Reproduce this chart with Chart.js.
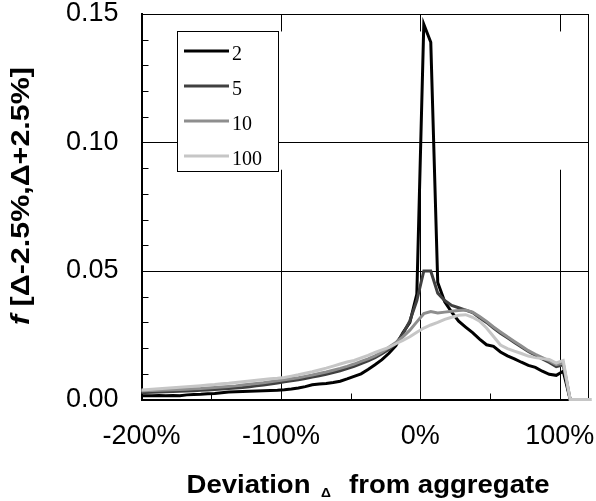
<!DOCTYPE html>
<html><head><meta charset="utf-8">
<script src="https://cdn.jsdelivr.net/npm/chart.js@4.4.1/dist/chart.umd.min.js"></script>
<style>html,body{margin:0;padding:0;background:#fff;}#wrap{width:596px;height:501px;}</style>
</head><body><div id="wrap"><canvas id="c" width="596" height="501"></canvas></div>
<script>
// bin centres (deviation Δ, in %)
const deviations = [-202.5,-197.5,-192.5,-187.5,-182.5,-177.5,-172.5,-167.5,-162.5,-157.5,
  -152.5,-147.5,-142.5,-137.5,-132.5,-127.5,-122.5,-117.5,-112.5,-107.5,
  -102.5,-97.5,-92.5,-87.5,-82.5,-77.5,-72.5,-67.5,-62.5,-57.5,
  -52.5,-47.5,-42.5,-37.5,-32.5,-27.5,-22.5,-17.5,-12.5,-7.5,
  -2.5,2.5,7.5,12.5,17.5,22.5,27.5,32.5,37.5,42.5,
  47.5,52.5,57.5,62.5,67.5,72.5,77.5,82.5,87.5,92.5,
  97.5,102.5,107.5,112.5,117.5,122.5,127.5];
const seriesNames = ['2','5','10','100'];
const series2 = [.0015,.0015,.0015,.0016,.0015,.0016,.0015,.0018,.0019,.0020,
  .0022,.0023,.0026,.0029,.0030,.0031,.0032,.0033,.0034,.0035,
  .0036,.0038,.0041,.0045,.0050,.0057,.0060,.0062,.0066,.0071,
  .0080,.0090,.0100,.0117,.0135,.0155,.0180,.0210,.0260,.0300,
  .0410,.1460,.1390,.0455,.0380,.0340,.0305,.0282,.0260,.0235,
  .0213,.0207,.0185,.0170,.0158,.0145,.0133,.0125,.0110,.0098,
  .0094,.0110,0,0,0,0,0];
const series5 = [.0027,.0027,.0028,.0029,.0030,.0031,.0032,.0033,.0034,.0036,
  .0037,.0039,.0041,.0043,.0045,.0047,.0050,.0053,.0056,.0060,
  .0064,.0069,.0073,.0077,.0082,.0087,.0092,.0098,.0105,.0112,
  .0120,.0129,.0140,.0150,.0163,.0178,.0195,.0218,.0255,.0306,
  .0385,.0500,.0500,.0414,.0385,.0366,.0357,.0348,.0338,.0318,
  .0300,.0278,.0258,.0240,.0222,.0204,.0187,.0172,.0158,.0144,
  .0128,.0135,0,0,0,0,0];
const series10 = [.0033,.0034,.0035,.0036,.0037,.0038,.0039,.0040,.0042,.0043,
  .0045,.0047,.0049,.0051,.0053,.0056,.0059,.0062,.0065,.0069,
  .0073,.0077,.0081,.0085,.0090,.0095,.0101,.0107,.0114,.0121,
  .0129,.0138,.0148,.0158,.0170,.0185,.0203,.0222,.0244,.0270,
  .0302,.0334,.0342,.0337,.0340,.0343,.0346,.0348,.0340,.0323,
  .0304,.0282,.0263,.0244,.0226,.0208,.0190,.0176,.0163,.0150,
  .0136,.0142,0,0,0,0,0];
const series100 = [.0036,.0038,.0040,.0042,.0044,.0046,.0048,.0050,.0052,.0054,
  .0056,.0058,.0061,.0063,.0066,.0069,.0072,.0075,.0078,.0081,
  .0083,.0086,.0091,.0096,.0102,.0108,.0115,.0122,.0130,.0138,
  .0146,.0152,.0162,.0172,.0183,.0193,.0203,.0217,.0230,.0244,
  .0262,.0278,.0290,.0300,.0312,.0320,.0328,.0330,.0320,.0305,
  .0278,.0245,.0212,.0198,.0188,.0179,.0169,.0163,.0159,.0156,
  .0142,.0152,0,0,0,0,0];
const xTickValues = [-200,-100,0,100];
const yTickLabels = ['0.00','0.05','0.10','0.15'];

const allSeries = [series2, series5, series10, series100];
const colors = ['#000000','#404040','#8e8e8e','#c6c6c6'];
const SANS = '"Liberation Sans", Arial, Helvetica, sans-serif';

const datasets = allSeries.map((s, i) => ({
  label: seriesNames[i],
  data: deviations.map((d, j) => ({x: d, y: s[j]})),
  borderColor: colors[i],
  backgroundColor: colors[i],
  borderWidth: 3,
  pointRadius: 0,
  tension: 0,
  fill: false,
  order: allSeries.length - 1 - i,
  clip: {left: 0, top: 5, right: 8, bottom: 3}
}));

function zeroPad(s) { s.paddingLeft = 0; s.paddingRight = 0; s.paddingTop = 0; s.paddingBottom = 0; }

const decor = {
  id: 'decor',
  beforeDatasetsDraw(chart) {
    const {ctx, chartArea: a, scales: {x, y}} = chart;
    ctx.save();
    ctx.strokeStyle = '#000';
    ctx.lineWidth = 1;
    const gapTop = y.getPixelForValue(0.1432), gapBot = y.getPixelForValue(0.0894);
    ctx.beginPath();
    x.ticks.forEach(t => {
      if (t.value <= x.min) return;
      const px = Math.round(x.getPixelForValue(t.value)) + 0.5;
      ctx.moveTo(px, a.top); ctx.lineTo(px, gapTop);
      ctx.moveTo(px, gapBot); ctx.lineTo(px, a.bottom);
    });
    const rx = Math.round(a.right) - 0.5;
    ctx.moveTo(rx, a.top); ctx.lineTo(rx, a.bottom);
    for (let k = 1; k < 15; k++) {
      const py = Math.round(y.getPixelForValue(k / 100)) + 0.5;
      ctx.moveTo(a.left, py); ctx.lineTo(a.left + 7, py);
    }
    for (let v = -150; v <= 100; v += 50) {
      const px = Math.round(x.getPixelForValue(v)) + 0.5;
      ctx.moveTo(px, a.bottom); ctx.lineTo(px, a.bottom - 6);
    }
    ctx.stroke();
    ctx.restore();
  },
  afterDraw(chart) {
    const {ctx} = chart;
    ctx.save();
    // legend
    const bx = 177.5, by = 31.5, bw = 101, bh = 140;
    ctx.fillStyle = '#fff';
    ctx.fillRect(bx, by, bw, bh);
    ctx.strokeStyle = '#000';
    ctx.lineWidth = 1;
    ctx.strokeRect(bx, by, bw, bh);
    chart.data.datasets.forEach((ds, i) => {
      const ry = 51 + i * 35;
      ctx.strokeStyle = ds.borderColor;
      ctx.lineWidth = 3;
      ctx.beginPath(); ctx.moveTo(184, ry); ctx.lineTo(229, ry); ctx.stroke();
      ctx.fillStyle = '#000';
      ctx.font = '20px "Liberation Serif", "Times New Roman", serif';
      ctx.textAlign = 'left'; ctx.textBaseline = 'alphabetic';
      ctx.fillText(ds.label, 232, ry + 9);
    });
    // x title
    ctx.fillStyle = '#000';
    ctx.textBaseline = 'alphabetic'; ctx.textAlign = 'left';
    const big = 'bold 26px ' + SANS, small = 'bold 13px ' + SANS;
    ctx.font = big;
    const w1 = ctx.measureText('Deviation').width;
    const w3 = ctx.measureText('from aggregate').width;
    ctx.font = small;
    const w2 = ctx.measureText('\u0394').width;
    const g1 = 10, g2 = 17;
    const nat = w1 + g1 + w2 + g2 + w3;
    const target = 363, cx = 368;
    ctx.save();
    ctx.translate(cx - target / 2, 493);
    ctx.scale(target / nat, 1);
    ctx.font = big; ctx.fillText('Deviation', 0, 0);
    ctx.font = small; ctx.fillText('\u0394', w1 + g1, 4);
    ctx.font = big; ctx.fillText('from aggregate', w1 + g1 + w2 + g2, 0);
    ctx.restore();
    // y title
    const fI = 'italic bold 26px ' + SANS, fB = 'bold 26px ' + SANS;
    const rest = ' [\u0394-2.5%,\u0394+2.5%]';
    ctx.font = fI; const wf = ctx.measureText('f').width;
    ctx.font = fB; const wr = ctx.measureText(rest).width;
    const ylen = 258;
    ctx.save();
    ctx.translate(28.5, 196);
    ctx.rotate(-Math.PI / 2);
    ctx.scale(ylen / (wf + wr), 1);
    const x0 = -(wf + wr) / 2;
    ctx.font = fI; ctx.fillText('f', x0, 0);
    ctx.font = fB; ctx.fillText(rest, x0 + wf, 0);
    ctx.restore();
    ctx.restore();
  }
};

new Chart(document.getElementById('c'), {
  type: 'line',
  data: {datasets},
  options: {
    responsive: false,
    devicePixelRatio: 1,
    animation: false,
    layout: {padding: {top: 14, right: 7, left: 0, bottom: 0}},
    plugins: {legend: {display: false}, tooltip: {enabled: false}, title: {display: false}},
    scales: {
      x: {
        type: 'linear', min: -200, max: 121,
        afterFit: s => { s.height = 101.5; zeroPad(s); },
        afterBuildTicks: s => { s.ticks = xTickValues.map(v => ({value: v})); },
        ticks: {
          includeBounds: false, maxRotation: 0, autoSkip: false, padding: 21,
          color: '#000', font: {family: SANS, size: 27},
          callback: v => v + '%'
        },
        grid: {display: false, drawTicks: false},
        border: {display: true, color: '#000', width: 2}
      },
      y: {
        type: 'linear', min: 0, max: 0.15,
        afterFit: s => { s.width = 141.5; zeroPad(s); },
        afterBuildTicks: s => { s.ticks = yTickLabels.map(l => ({value: parseFloat(l)})); },
        ticks: {
          padding: 23, color: '#000', font: {family: SANS, size: 27},
          callback: (v, i) => yTickLabels[i]
        },
        grid: {
          drawTicks: false, lineWidth: 1,
          color: c => (c.tick && c.tick.value > 0) ? '#000' : 'rgba(0,0,0,0)'
        },
        border: {display: true, color: '#000', width: 2}
      }
    }
  },
  plugins: [decor]
});
</script>
</body></html>
